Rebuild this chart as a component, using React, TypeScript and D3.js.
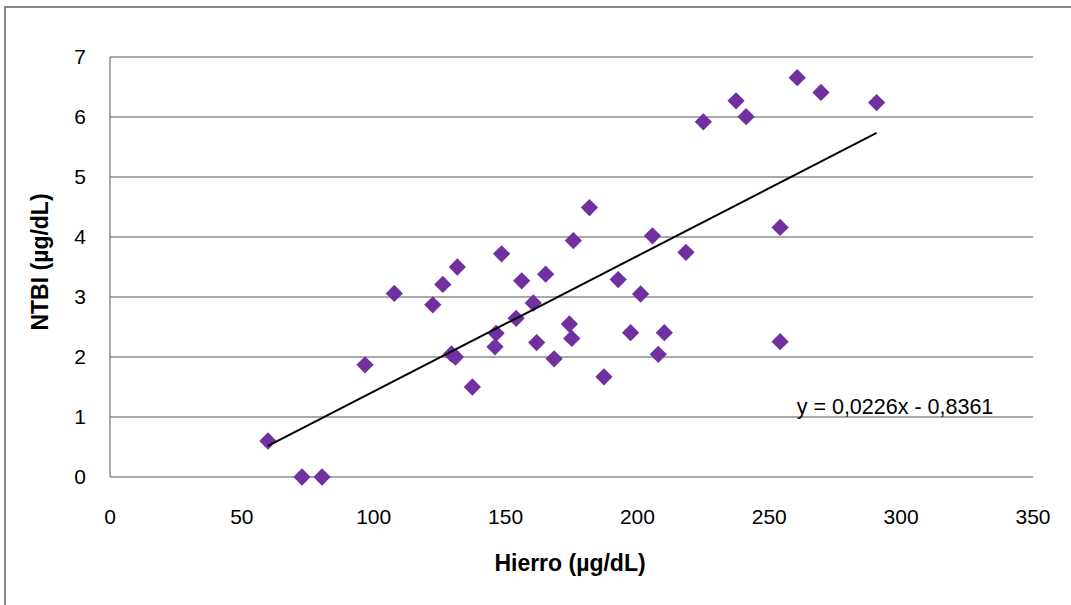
import React from "react";
import * as d3 from "d3";

const hierro: number[] = [
  59.9, 72.8, 80.4, 96.7, 107.8, 122.4, 126.2, 131.7, 129.5, 131.0, 137.4,
  148.5, 156.1, 165.2, 160.5, 154.0, 146.4, 146.0, 161.8, 168.4, 174.2, 175.1, 175.7,
  181.8, 205.7, 192.7, 201.2, 197.4, 210.2, 207.9, 187.3,
  218.4, 225.0, 237.4, 241.2, 260.6, 269.6, 290.7, 254.1, 254.1,
];
const ntbi: number[] = [
  0.6, 0.0, 0.0, 1.87, 3.06, 2.87, 3.21, 3.5, 2.05, 2.0, 1.5,
  3.72, 3.27, 3.38, 2.9, 2.645, 2.395, 2.17, 2.24, 1.97, 2.55, 2.31, 3.94,
  4.49, 4.02, 3.29, 3.05, 2.405, 2.405, 2.045, 1.67,
  3.745, 5.92, 6.27, 6.005, 6.655, 6.41, 6.24, 4.16, 2.255,
];
const xTicks: number[] = [0, 50, 100, 150, 200, 250, 300, 350];
const yTicks: number[] = [0, 1, 2, 3, 4, 5, 6, 7];
const slope = 0.0226;
const intercept = -0.8361;
const equationLabel = "y = 0,0226x - 0,8361";
const xTitle = "Hierro (µg/dL)";
const yTitle = "NTBI (µg/dL)";

export default function App() {
  const W = 1071;
  const H = 605;
  const x = d3.scaleLinear().domain([0, 350]).range([110, 1033]);
  const y = d3.scaleLinear().domain([0, 7]).range([477, 57]);
  const font = "'Liberation Sans', Arial, sans-serif";
  const pts = hierro.map((h, i) => ({ h, n: ntbi[i] }));
  const xMin = d3.min(hierro) as number;
  const xMax = d3.max(hierro) as number;
  const line = d3.line<number>().x((d) => x(d)).y((d) => y(slope * d + intercept));
  const diamond = d3.symbol().type(d3.symbolDiamond2).size(190)();
  return (
    <svg width={W} height={H} style={{ position: "absolute", left: 0, top: 0 }}>
      <rect x={0} y={0} width={W} height={H} fill="#fff" />
      <rect x={5} y={7} width={W + 20} height={H + 20} fill="none" stroke="#888" strokeWidth={2} />
      {yTicks.map((t) => (
        <line key={t} x1={x(0)} x2={x(350)} y1={y(t)} y2={y(t)} stroke="#8c8c8c" strokeWidth={1.5} />
      ))}
      <line x1={x(0)} x2={x(0)} y1={y(0)} y2={y(7)} stroke="#8c8c8c" strokeWidth={1.5} />
      {yTicks.map((t) => (
        <text key={t} x={86} y={y(t)} dy="0.35em" textAnchor="end" fontFamily={font} fontSize={21} fill="#000">
          {t}
        </text>
      ))}
      {xTicks.map((t) => (
        <text key={t} x={x(t)} y={517} dy="0.35em" textAnchor="middle" fontFamily={font} fontSize={21} fill="#000">
          {t}
        </text>
      ))}
      {pts.map((p, i) => (
        <path key={i} d={diamond ?? ""} transform={`translate(${x(p.h)},${y(p.n)})`} fill="#7030a0" />
      ))}
      <path d={line([xMin, xMax]) ?? ""} fill="none" stroke="#000" strokeWidth={2} />
      <text x={895} y={406} dy="0.35em" textAnchor="middle" fontFamily={font} fontSize={21.5} fill="#000">
        {equationLabel}
      </text>
      <text x={570} y={563} dy="0.35em" textAnchor="middle" fontFamily={font} fontSize={23} fontWeight="bold" fill="#000">
        {xTitle}
      </text>
      <text
        transform={`translate(40,262) rotate(-90)`}
        dy="0.35em"
        textAnchor="middle"
        fontFamily={font}
        fontSize={23}
        fontWeight="bold"
        fill="#000"
      >
        {yTitle}
      </text>
    </svg>
  );
}
